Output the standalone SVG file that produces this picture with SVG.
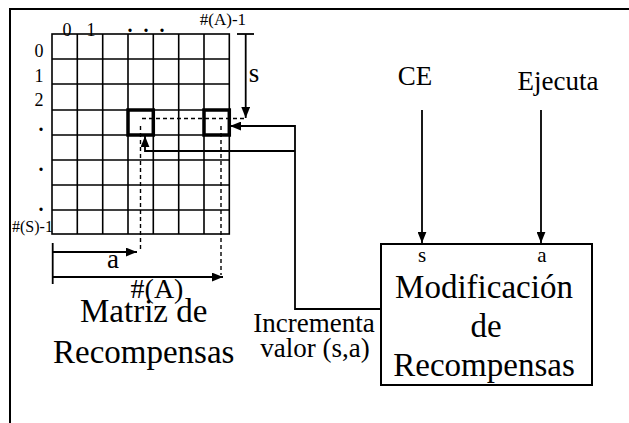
<svg xmlns="http://www.w3.org/2000/svg" width="629" height="423" viewBox="0 0 629 423">
<style>
text{font-family:"Liberation Serif","Times New Roman",serif;fill:#000}
.g{stroke:#000;stroke-width:1.6;fill:none}
.c{stroke:#000;stroke-width:1.8;fill:none}
.d{stroke:#000;stroke-width:1.4;fill:none;stroke-dasharray:4,3}
.big{font-size:33px}
.mid{font-size:27px}
.lab{font-size:18px}
.dot{font-size:20px;font-weight:bold}
</style>
<defs>
<marker id="ah" viewBox="0 0 10 8" refX="10" refY="4" markerWidth="11" markerHeight="9" markerUnits="userSpaceOnUse" orient="auto">
<path d="M0,0 L10,4 L0,8 z" fill="#000"/>
</marker>
</defs>
<rect width="629" height="423" fill="#fff"/>
<path d="M10,423 V9 H629" stroke="#000" stroke-width="2" fill="none"/>

<g id="matriz">
<rect x="52" y="34" width="177.3" height="200" class="g"/>
<path class="g" d="M77.3,34V234M102.7,34V234M128,34V234M153.3,34V234M178.7,34V234M204,34V234M52,59H229.3M52,84H229.3M52,110H229.3M52,135H229.3M52,160H229.3M52,185H229.3M52,210H229.3"/>
<rect x="128" y="110" width="25.3" height="25" fill="none" stroke="#000" stroke-width="3.5"/>
<rect x="204" y="110" width="25.3" height="25" fill="none" stroke="#000" stroke-width="3.5"/>
<text x="67" y="36" class="lab" text-anchor="middle">0</text>
<text x="91" y="36" class="lab" text-anchor="middle">1</text>
<text x="130" y="32" class="dot" text-anchor="middle">.</text>
<text x="146" y="32" class="dot" text-anchor="middle">.</text>
<text x="162" y="32" class="dot" text-anchor="middle">.</text>
<text x="223" y="25" text-anchor="middle" style="font-size:17px">#(A)-1</text>
<text x="39" y="57" class="lab" text-anchor="middle">0</text>
<text x="39" y="82" class="lab" text-anchor="middle">1</text>
<text x="39" y="106" class="lab" text-anchor="middle">2</text>
<text x="41" y="131" class="dot" text-anchor="middle">.</text>
<text x="41" y="171" class="dot" text-anchor="middle">.</text>
<text x="41" y="211" class="dot" text-anchor="middle">.</text>
<text x="12" y="232" style="font-size:16px">#(S)-1</text>
<text x="113" y="268" class="mid" text-anchor="middle">a</text>
<text x="157" y="298" text-anchor="middle" style="font-size:28px">#(A)</text>
<text x="254" y="82" class="mid" text-anchor="middle">s</text>
<text x="80" y="322" class="big">Matriz de</text>
<text x="53" y="363" class="big">Recompensas</text>
</g>

<g id="modificacion">
<rect x="381" y="244" width="211" height="141" fill="none" stroke="#000" stroke-width="2"/>
<text x="422" y="262" text-anchor="middle" style="font-size:21px">s</text>
<text x="542" y="262" text-anchor="middle" style="font-size:21px">a</text>
<text x="484" y="298" class="big" text-anchor="middle">Modificación</text>
<text x="486" y="337" class="big" text-anchor="middle">de</text>
<text x="484" y="376" class="big" text-anchor="middle">Recompensas</text>
</g>

<g id="ce"><text x="415" y="85" class="mid" text-anchor="middle">CE</text></g>
<g id="ejecuta"><text x="558" y="90" class="mid" text-anchor="middle">Ejecuta</text></g>
<g id="incrementa">
<text x="314" y="332" class="mid" text-anchor="middle">Incrementa</text>
<text x="315" y="357" class="mid" text-anchor="middle">valor (s,a)</text>
</g>

<g id="connectors">
<path class="c" d="M237,34H254"/>
<path class="c" d="M245.7,34V118" marker-end="url(#ah)"/>
<path class="c" d="M381,309H295V126H230" marker-end="url(#ah)"/>
<path class="c" d="M295,151H145V136" marker-end="url(#ah)"/>
<path class="d" d="M142,118.5H245"/>
<path class="d" d="M140.5,126V251"/>
<path class="d" d="M221,126V275"/>
<path class="c" d="M52.7,243V284"/>
<path class="c" d="M52.7,252H137" marker-end="url(#ah)"/>
<path class="c" d="M52.7,277H223" marker-end="url(#ah)"/>
<path class="c" d="M422,110V243" marker-end="url(#ah)"/>
<path class="c" d="M541,110V243" marker-end="url(#ah)"/>
</g>
</svg>
